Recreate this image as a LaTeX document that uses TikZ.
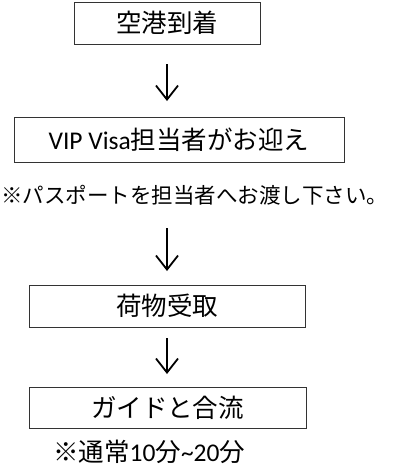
\documentclass[tikz,border=0pt]{standalone}
\usepackage{fontspec}
\setmainfont{Carlito}
\newfontfamily\jp{Noto Sans CJK JP}
\usetikzlibrary{arrows.meta}
\tikzset{
  stepbox/.style={draw=black!80, line width=0.8pt, fill=white, inner sep=0pt, font=\fontsize{25.5}{28}\selectfont},
  note/.style={inner sep=0pt, font=\fontsize{21.5}{24}\selectfont},
  flow/.style={line width=1.8pt, -{Straight Barb[length=14pt, width=22pt, line width=1.8pt]}}
}
\begin{document}
\begin{tikzpicture}[x=1pt,y=-1pt]
\useasboundingbox (0,0) rectangle (395,469);
\node[stepbox, minimum width=186pt, minimum height=42pt] (b1) at (167,23) {\jp 空港到着};
\node[stepbox, minimum width=330pt, minimum height=45pt] (b2) at (179,139.5) {VIP Visa{\jp 担当者がお迎え}};
\node[note] (n1) at (195,195) {\jp ※パスポートを担当者へお渡し下さい。};
\node[stepbox, minimum width=276pt, minimum height=42pt] (b3) at (167,306) {\jp 荷物受取};
\node[stepbox, minimum width=277pt, minimum height=41pt] (b4) at (167.5,407.5) {\jp ガイドと合流};
\node[note, anchor=west, font=\fontsize{25.5}{28}\selectfont] (n2) at (53,452) {{\jp ※通常}10{\jp 分}\textasciitilde 20{\jp 分}};
\coordinate (a1s) at (167,64);
\coordinate (a1e) at (167,101);
\coordinate (a2s) at (167,228);
\coordinate (a2e) at (167,271);
\coordinate (a3s) at (167,338);
\coordinate (a3e) at (167,374);
\draw[flow] (a1s) -- (a1e);
\draw[flow] (a2s) -- (a2e);
\draw[flow] (a3s) -- (a3e);
\end{tikzpicture}
\end{document}
